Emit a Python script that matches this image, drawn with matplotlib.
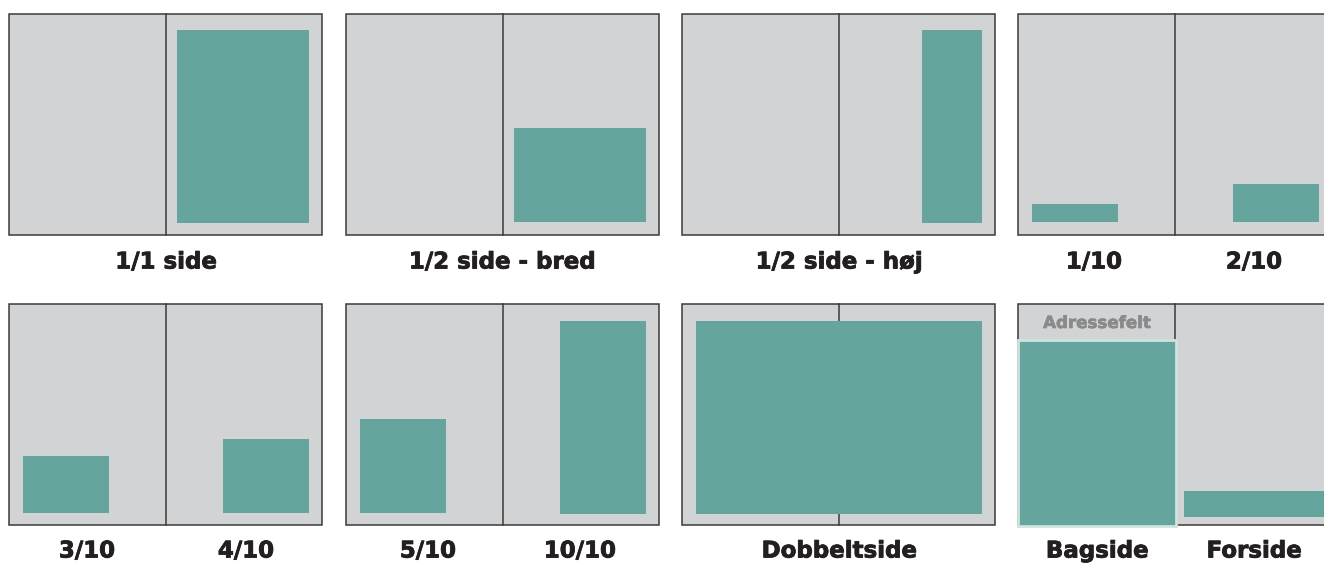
import matplotlib.pyplot as plt
import matplotlib.patheffects as pe
from matplotlib.patches import Rectangle

# Panel (opslag) positions in pixels: venstre kant, top
panel_x = [9, 346, 682, 1018]
panel_y = [14, 304]
panel_w = 313
panel_h = 221

# Annoncer: (x, y, bredde, hoejde) in pixels
ads = {
    "1/1 side": (177, 30, 132, 193),
    "1/2 side - bred": (514, 128, 132, 94),
    "1/2 side - høj": (922, 30, 60, 193),
    "1/10": (1032, 204, 86, 18),
    "2/10": (1233, 184, 86, 38),
    "3/10": (23, 456, 86, 57),
    "4/10": (223, 439, 86, 74),
    "5/10": (360, 419, 86, 94),
    "10/10": (560, 321, 86, 193),
    "Dobbeltside": (696, 321, 286, 193),
    "Bagside": (1018, 340, 158, 186),
    "Forside": (1184, 491, 150, 26),
}

# Etiketter: tekst, x-midte, y
labels = [
    ("1/1 side", 166, 262),
    ("1/2 side - bred", 502, 262),
    ("1/2 side - høj", 839, 262),
    ("1/10", 1094, 262),
    ("2/10", 1254, 262),
    ("3/10", 87, 551),
    ("4/10", 246, 551),
    ("5/10", 428, 551),
    ("10/10", 580, 551),
    ("Dobbeltside", 839, 551),
    ("Bagside", 1097, 551),
    ("Forside", 1254, 551),
]

grey = "#d1d3d5"
green = "#66a59e"
edge = "#3a3a3a"
txt = "#231f20"

fig = plt.figure(figsize=(13.24, 5.63), dpi=100)
ax = fig.add_axes([0, 0, 1, 1])
ax.set_xlim(0, 1324)
ax.set_ylim(563, 0)
ax.axis("off")

for py in panel_y:
    for px in panel_x:
        ax.add_patch(Rectangle((px, py), panel_w, panel_h, facecolor=grey,
                               edgecolor=edge, linewidth=1.1, zorder=1))
        mid = px + panel_w / 2
        ax.plot([mid, mid], [py, py + panel_h], color=edge, linewidth=1.1, zorder=2)

for name, (x, y, w, h) in ads.items():
    if name == "Bagside":
        ax.add_patch(Rectangle((x, y), w, h, facecolor=green,
                               edgecolor="#cfe3df", linewidth=2, zorder=3))
    else:
        ax.add_patch(Rectangle((x, y), w, h, facecolor=green,
                               edgecolor="none", zorder=3))

ax.text(1097, 323, "Adressefelt", ha="center", va="center", fontsize=12,
        fontweight="bold", color="#8a8a8a", family="DejaVu Sans", zorder=4,
        path_effects=[pe.withStroke(linewidth=0.5, foreground="#8a8a8a")])

for t, x, y in labels:
    ax.text(x, y, t, ha="center", va="center", fontsize=16.5, fontweight="bold",
            color=txt, family="DejaVu Sans",
            path_effects=[pe.withStroke(linewidth=0.6, foreground=txt)])

fig.savefig("out.png", dpi=100)
